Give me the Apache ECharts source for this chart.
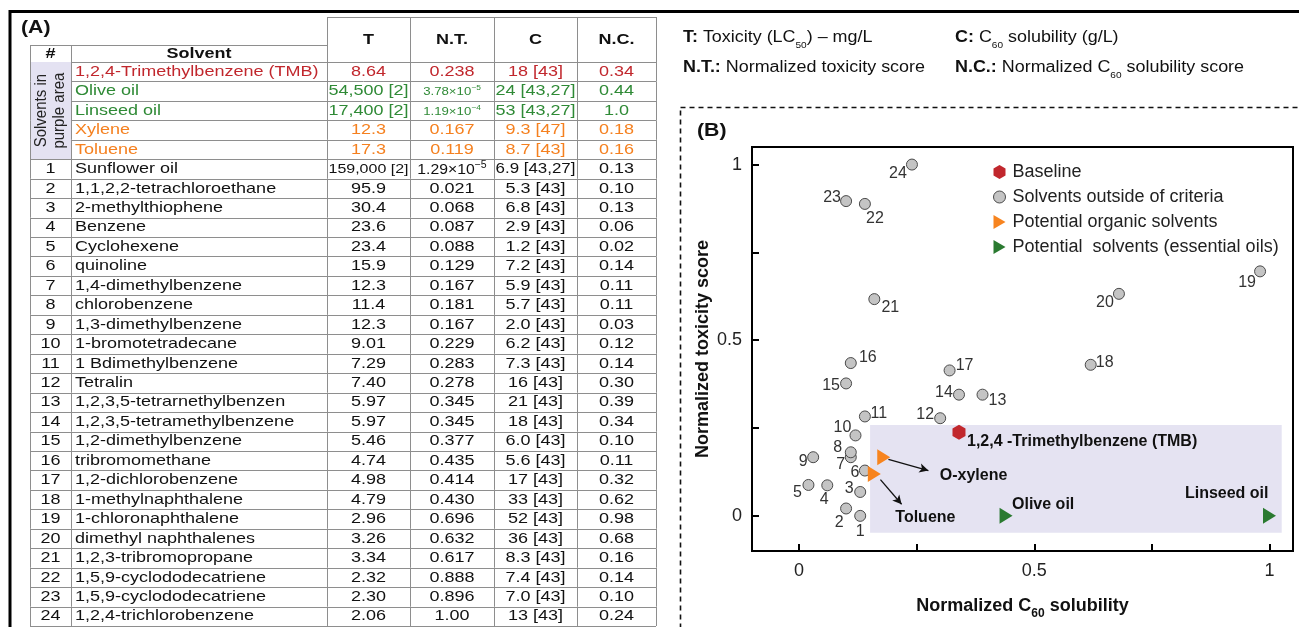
<!DOCTYPE html>
<html><head><meta charset="utf-8">
<script src="https://cdn.jsdelivr.net/npm/echarts@6/dist/echarts.min.js"></script>
<style>html,body{margin:0;padding:0;background:#fff}#c{width:1299px;height:627px}</style>
</head><body><div id="c"></div>
<script>
// ================= DATA =================
const headerCols = ['T', 'N.T.', 'C', 'N.C.'];

const purpleNames = ['1,2,4-Trimethylbenzene (TMB)', 'Olive oil', 'Linseed oil', 'Xylene', 'Toluene'];
const purpleT = ['8.64', '54,500 [2]', '17,400 [2]', '12.3', '17.3'];
const purpleNT = [0.238, 3.78e-5, 1.19e-4, 0.167, 0.119];
const purpleC = ['18 [43]', '24 [43,27]', '53 [43,27]', '9.3 [47]', '8.7 [43]'];
const purpleNC = [0.34, 0.44, 1.0, 0.18, 0.16];
const purpleGroup = ['baseline', 'oil', 'oil', 'organic', 'organic'];
const purplePlotLabel = ['1,2,4 -Trimethylbenzene (TMB)', 'Olive oil', 'Linseed oil', 'O-xylene', 'Toluene'];

const solventNames = ['Sunflower oil', '1,1,2,2-tetrachloroethane', '2-methylthiophene', 'Benzene', 'Cyclohexene',
  'quinoline', '1,4-dimethylbenzene', 'chlorobenzene', '1,3-dimethylbenzene', '1-bromotetradecane',
  '1 Bdimethylbenzene', 'Tetralin', '1,2,3,5-tetrarnethylbenzen', '1,2,3,5-tetramethylbenzene', '1,2-dimethylbenzene',
  'tribromomethane', '1,2-dichlorobenzene', '1-methylnaphthalene', '1-chloronaphthalene', 'dimethyl naphthalenes',
  '1,2,3-tribromopropane', '1,5,9-cyclododecatriene', '1,5,9-cyclododecatriene', '1,2,4-trichlorobenzene'];
const solventT = ['159,000 [2]', '95.9', '30.4', '23.6', '23.4', '15.9', '12.3', '11.4', '12.3', '9.01', '7.29', '7.40',
  '5.97', '5.97', '5.46', '4.74', '4.98', '4.79', '2.96', '3.26', '3.34', '2.32', '2.30', '2.06'];
const solventNT = [1.29e-5, 0.021, 0.068, 0.087, 0.088, 0.129, 0.167, 0.181, 0.167, 0.229, 0.283, 0.278,
  0.345, 0.345, 0.377, 0.435, 0.414, 0.430, 0.696, 0.632, 0.617, 0.888, 0.896, 1.00];
const solventC = ['6.9 [43,27]', '5.3 [43]', '6.8 [43]', '2.9 [43]', '1.2 [43]', '7.2 [43]', '5.9 [43]', '5.7 [43]',
  '2.0 [43]', '6.2 [43]', '7.3 [43]', '16 [43]', '21 [43]', '18 [43]', '6.0 [43]', '5.6 [43]', '17 [43]', '33 [43]',
  '52 [43]', '36 [43]', '8.3 [43]', '7.4 [43]', '7.0 [43]', '13 [43]'];
const solventNC = [0.13, 0.10, 0.13, 0.06, 0.02, 0.14, 0.11, 0.11, 0.03, 0.12, 0.14, 0.30,
  0.39, 0.34, 0.10, 0.11, 0.32, 0.62, 0.98, 0.68, 0.16, 0.14, 0.10, 0.24];

const xTickValues = [0, 0.25, 0.5, 0.75, 1];
const xTickLabels = [0, 0.5, 1];
const yTickValues = [0, 0.25, 0.5, 0.75, 1];
const yTickLabels = [0, 0.5, 1];

// ================= LAYOUT / STYLE =================
const FONT = '"Liberation Sans", Arial, sans-serif';
const SX = 1.2;                       // horizontal stretch of the reference text
const LINE = '#8e8e8e';
const groupColor = { baseline: '#c1272d', oil: '#2f8a36', organic: '#f5801f' };
const plotColor = { baseline: '#c1272d', oil: '#2a7a30', organic: '#f7841f' };
const TBL = { left: 30, top: 62, width: 626, height: 564 };
const COL_EDGES = [0, 41, 297, 380, 464, 547, 626];
const grayLabelOffsets = [[0,16],[-7,14],[-11,-3],[-3,14],[-11,8],[-10,2],[-10,7],[-13,-5],[-10,4],[-13,-8],
  [14,-3],[-15,-4],[15,6],[-15,-2],[-15,2],[17,-5],[15,-5],[14,-2],[-13,11],[-14,9],[16,8],[10,15],[-14,-4],[-14,9]];
const specialLabel = [
  { align: 'left', offset: [8, 9] },
  { align: 'left', offset: [6, -11] },
  { align: 'right', offset: [-1, -22] },
  { align: 'left', offset: [56, 18] },
  { align: 'left', offset: [21, 44] }
];
const arrowDelta = { 3: [[0.01, -0.006], [0.095, -0.038]], 4: [[0.013, -0.016], [0.058, -0.086]] };

// ================= helpers =================
const mctx = document.createElement('canvas').getContext('2d');
function textW(t, size, weight) { mctx.font = (weight || 'normal') + ' ' + size + 'px ' + FONT; return mctx.measureText(t).width; }
function fmtNT(v) {
  if (v < 0.001) {
    const e = Math.floor(Math.log10(v));
    return { sci: true, m: (v / Math.pow(10, e)).toFixed(2) + '×10', e: String(e) };
  }
  return { sci: false, s: v === 1 ? '1.00' : v.toFixed(3) };
}
function fmtNC(v) { return v === 1 ? '1.0' : v.toFixed(2); }

const tableRows = [];
purpleNames.forEach((n, i) => tableRows.push({ purple: true, num: '', name: n, T: purpleT[i], NT: purpleNT[i], C: purpleC[i], NC: purpleNC[i], color: groupColor[purpleGroup[i]] }));
solventNames.forEach((n, i) => tableRows.push({ purple: false, num: String(i + 1), name: n, T: solventT[i], NT: solventNT[i], C: solventC[i], NC: solventNC[i], color: '#111' }));

function cellText(txt, cx, cy, color, cellW, align) {
  let fs = 15;
  const w = textW(txt, fs) * SX;
  if (w > cellW - 3) fs = fs * (cellW - 3) / w;
  return { type: 'text', x: cx, y: cy, scaleX: SX, style: { text: txt, fill: color, fontSize: fs, fontFamily: FONT, align: align || 'center', verticalAlign: 'middle' } };
}

function renderRow(params, api) {
  const i = params.dataIndex;
  const r = tableRows[i];
  const band = api.size([0, 1])[1];
  const yc = api.coord([0, i])[1];
  const top = yc - band / 2, bot = yc + band / 2;
  const X = e => api.coord([e, i])[0];
  const px = v => Math.round(v) + 0.5;
  const ch = [];
  const ls = { stroke: LINE, lineWidth: 1 };
  if (i === 0) {
    ch.push({ type: 'rect', shape: { x: X(COL_EDGES[0]), y: top, width: X(COL_EDGES[1]) - X(COL_EDGES[0]), height: band * 5 }, style: { fill: '#e4e2f2' } });
    ch.push({ type: 'text', x: (X(COL_EDGES[0]) + X(COL_EDGES[1])) / 2, y: top + band * 2.5, rotation: Math.PI / 2, scaleY: 1.1,
      style: { text: 'Solvents in\npurple area', fill: '#222', fontSize: 15, lineHeight: 17, fontFamily: FONT, align: 'center', verticalAlign: 'middle' } });
  }
  const hStart = (r.purple && i < 4) ? X(COL_EDGES[1]) : X(COL_EDGES[0]);
  ch.push({ type: 'line', shape: { x1: hStart, y1: px(bot), x2: X(COL_EDGES[6]), y2: px(bot) }, style: ls });
  COL_EDGES.forEach(e => ch.push({ type: 'line', shape: { x1: px(X(e)), y1: top, x2: px(X(e)), y2: bot }, style: ls }));
  if (r.num) ch.push(cellText(r.num, (X(COL_EDGES[0]) + X(COL_EDGES[1])) / 2, yc, '#111', 41));
  ch.push(cellText(r.name, X(COL_EDGES[1]) + 4, yc, r.color, 300, 'left'));
  const vals = [r.T, null, r.C, fmtNC(r.NC)];
  [2, 3, 4, 5].forEach((c, k) => {
    const cx = (X(COL_EDGES[c]) + X(COL_EDGES[c + 1])) / 2;
    const cw = X(COL_EDGES[c + 1]) - X(COL_EDGES[c]);
    if (k === 1) {
      const f = fmtNT(r.NT);
      if (f.sci) {
        const fs = r.purple ? 11 : 15, ss = r.purple ? 7 : 10;
        ch.push({ type: 'text', x: cx, y: yc, scaleX: r.purple ? SX : 1.05, style: {
          text: '{m|' + f.m + '}{s|' + f.e.replace('-', '−') + '}', fill: r.color, fontFamily: FONT, fontSize: fs,
          align: 'center', verticalAlign: 'middle',
          rich: { m: { fontSize: fs, fontFamily: FONT, fill: r.color, verticalAlign: 'bottom', lineHeight: fs + 2 },
                  s: { fontSize: ss, fontFamily: FONT, fill: r.color, verticalAlign: 'top', lineHeight: fs + 2 } } } });
      } else ch.push(cellText(f.s, cx, yc, r.color, cw));
    } else ch.push(cellText(vals[k], cx, yc, r.color, cw));
  });
  return { type: 'group', children: ch };
}

// ---------- scatter data ----------
const grayData = solventNC.map((x, i) => ({ value: [x, solventNT[i]], label: { offset: grayLabelOffsets[i] } }));
function specialData(group) {
  const out = [];
  purpleGroup.forEach((g, i) => {
    if (g === group) out.push({ value: [purpleNC[i], purpleNT[i]], label: { show: true, formatter: purplePlotLabel[i], align: specialLabel[i].align, offset: specialLabel[i].offset } });
  });
  return out;
}
const arrows = [];
purpleGroup.forEach((g, i) => {
  if (arrowDelta[i]) {
    const d = arrowDelta[i];
    arrows.push([{ coord: [purpleNC[i] + d[0][0], purpleNT[i] + d[0][1]] }, { coord: [purpleNC[i] + d[1][0], purpleNT[i] + d[1][1]] }]);
  }
});

const HEX = 'path://M6,0 L12,3.5 L12,10.5 L6,14 L0,10.5 L0,3.5 Z';
const TRI = 'path://M0,0 L12,7 L0,14 Z';
const specLabelStyle = { position: 'inside', fontFamily: FONT, fontWeight: 'bold', fontSize: 16, color: '#111', verticalAlign: 'middle' };

// ---------- header graphics ----------
const G = [];
const gl = (x1, y1, x2, y2, st) => G.push({ type: 'line', silent: true, shape: { x1, y1, x2, y2 }, style: Object.assign({ stroke: LINE, lineWidth: 1 }, st || {}) });
const abs = e => TBL.left + e;
// outer frame
G.push({ type: 'polyline', silent: true, shape: { points: [[10, 640], [10, 11.5], [1310, 11.5]] }, style: { stroke: '#000', lineWidth: 3, fill: null } });
// header boxes
gl(abs(COL_EDGES[2]), 17.5, abs(COL_EDGES[6]), 17.5);
gl(abs(COL_EDGES[0]), 45.5, abs(COL_EDGES[2]), 45.5);
gl(abs(COL_EDGES[0]), 62.5, abs(COL_EDGES[6]), 62.5);
[2, 3, 4, 5, 6].forEach(c => gl(abs(COL_EDGES[c]) + 0.5, 17, abs(COL_EDGES[c]) + 0.5, 62));
[0, 1].forEach(c => gl(abs(COL_EDGES[c]) + 0.5, 45, abs(COL_EDGES[c]) + 0.5, 62));
headerCols.forEach((h, k) => G.push({ type: 'text', silent: true, x: (abs(COL_EDGES[k + 2]) + abs(COL_EDGES[k + 3])) / 2, y: 40, scaleX: SX,
  style: { text: h, fontFamily: FONT, fontWeight: 'bold', fontSize: 15, fill: '#111', align: 'center', verticalAlign: 'middle' } }));
G.push({ type: 'text', silent: true, x: (abs(COL_EDGES[0]) + abs(COL_EDGES[1])) / 2, y: 54, scaleX: SX, style: { text: '#', fontFamily: FONT, fontWeight: 'bold', fontSize: 15, fill: '#111', align: 'center', verticalAlign: 'middle' } });
G.push({ type: 'text', silent: true, x: (abs(COL_EDGES[1]) + abs(COL_EDGES[2])) / 2, y: 54, scaleX: SX, style: { text: 'Solvent', fontFamily: FONT, fontWeight: 'bold', fontSize: 15, fill: '#111', align: 'center', verticalAlign: 'middle' } });
G.push({ type: 'text', silent: true, x: 21, y: 28, scaleX: 1.12, style: { text: '(A)', fontFamily: FONT, fontWeight: 'bold', fontSize: 19, fill: '#111', align: 'left', verticalAlign: 'middle' } });
G.push({ type: 'text', silent: true, x: 697, y: 131, scaleX: 1.12, style: { text: '(B)', fontFamily: FONT, fontWeight: 'bold', fontSize: 19, fill: '#111', align: 'left', verticalAlign: 'middle' } });
// definitions block
const defRich = { b: { fontWeight: 'bold', fontSize: 16, fontFamily: FONT, fill: '#111', lineHeight: 20 },
  r: { fontSize: 16, fontFamily: FONT, fill: '#111', lineHeight: 20 },
  s: { fontSize: 9, fontFamily: FONT, fill: '#111', verticalAlign: 'bottom', lineHeight: 25 } };
[[683, 38, '{b|T:}{r| Toxicity (LC}{s|50}{r|) – mg/L}'], [955, 38, '{b|C:}{r| C}{s|60}{r| solubility (g/L)}'],
 [683, 68, '{b|N.T.:}{r| Normalized toxicity score}'], [955, 68, '{b|N.C.:}{r| Normalized C}{s|60}{r| solubility score}']]
  .forEach(d => G.push({ type: 'text', silent: true, x: d[0], y: d[1], scaleX: 1.12, style: { text: d[2], rich: defRich, fontFamily: FONT, fontSize: 16, align: 'left', verticalAlign: 'middle' } }));
// dashed panel
G.push({ type: 'rect', silent: true, shape: { x: 680.5, y: 107.5, width: 700, height: 600 }, style: { fill: null, stroke: '#111', lineWidth: 1.6, lineDash: [5, 4] } });

// ================= CHART =================
const chart = echarts.init(document.getElementById('c'));
chart.setOption({
  animation: false,
  backgroundColor: '#fff',
  textStyle: { fontFamily: FONT },
  graphic: G,
  grid: [
    { left: TBL.left, top: TBL.top, width: TBL.width, height: TBL.height },
    { left: 752, top: 147, width: 541, height: 404, show: true, borderColor: '#000', borderWidth: 2 }
  ],
  xAxis: [
    { gridIndex: 0, type: 'value', min: 0, max: TBL.width, show: false },
    { gridIndex: 1, type: 'value', min: -0.1, max: 1.05, splitLine: { show: false },
      axisLine: { show: true, onZero: false, lineStyle: { color: '#000', width: 2 } },
      axisTick: { show: true, inside: true, length: 7, customValues: xTickValues, lineStyle: { color: '#000', width: 2 } },
      axisLabel: { customValues: xTickLabels, fontSize: 18, color: '#222', fontFamily: FONT, margin: 11, formatter: v => String(v) },
      name: 'Normalized C{s|60} solubility', nameLocation: 'middle', nameGap: 42,
      nameTextStyle: { fontSize: 18, fontWeight: 'bold', color: '#111', fontFamily: FONT, lineHeight: 22,
        rich: { s: { fontSize: 12, fontWeight: 'bold', fontFamily: FONT, color: '#111', verticalAlign: 'bottom', lineHeight: 27 } } } }
  ],
  yAxis: [
    { gridIndex: 0, type: 'category', data: tableRows.map((r, i) => 'r' + i), inverse: true, show: false },
    { gridIndex: 1, type: 'value', min: -0.1, max: 1.05, splitLine: { show: false },
      axisLine: { show: true, onZero: false, lineStyle: { color: '#000', width: 2 } },
      axisTick: { show: true, inside: true, length: 7, customValues: yTickValues, lineStyle: { color: '#000', width: 2 } },
      axisLabel: { customValues: yTickLabels, fontSize: 18, color: '#222', fontFamily: FONT, margin: 10, formatter: v => String(v) },
      name: 'Normalized toxicity score', nameLocation: 'middle', nameRotate: 90, nameGap: 40,
      nameTextStyle: { fontSize: 18, fontWeight: 'bold', color: '#111', fontFamily: FONT } }
  ],
  legend: {
    orient: 'vertical', left: 988, top: 158, itemWidth: 12, itemHeight: 14, itemGap: 7,
    textStyle: { fontSize: 18, color: '#222', fontFamily: FONT, padding: [0, 0, 0, 2] },
    data: ['Baseline', { name: 'Solvents outside of criteria', itemStyle: { borderWidth: 1 } }, 'Potential organic solvents', 'Potential  solvents (essential oils)']
  },
  series: [
    { type: 'custom', name: 'table', xAxisIndex: 0, yAxisIndex: 0, silent: true, clip: false,
      data: tableRows.map((r, i) => [0, i]), renderItem: renderRow },
    { type: 'scatter', name: 'area', xAxisIndex: 1, yAxisIndex: 1, data: [], silent: true, z: 1,
      markArea: { silent: true, itemStyle: { color: '#e5e3f2' }, data: [[{ coord: [0.151, 0.259] }, { coord: [1.026, -0.048] }]] } },
    { type: 'scatter', name: 'Solvents outside of criteria', xAxisIndex: 1, yAxisIndex: 1, z: 3,
      symbol: 'circle', symbolSize: 11, itemStyle: { color: '#c4c4c4', borderColor: '#4a4a4a', borderWidth: 1, opacity: 1 },
      label: { show: true, position: 'inside', formatter: p => String(p.dataIndex + 1), fontSize: 16, color: '#333', fontFamily: FONT },
      data: grayData },
    { type: 'scatter', name: 'Baseline', xAxisIndex: 1, yAxisIndex: 1, z: 4, symbol: HEX, symbolSize: [13, 15],
      itemStyle: { color: plotColor.baseline, opacity: 1 }, label: specLabelStyle, data: specialData('baseline') },
    { type: 'scatter', name: 'Potential organic solvents', xAxisIndex: 1, yAxisIndex: 1, z: 4, symbol: TRI, symbolSize: [13, 16],
      itemStyle: { color: plotColor.organic, opacity: 1 }, label: specLabelStyle, data: specialData('organic'),
      markLine: { silent: true, symbol: ['none', 'arrow'], symbolSize: [7, 9], label: { show: false },
        lineStyle: { color: '#111', width: 1.3, type: 'solid' }, data: arrows } },
    { type: 'scatter', name: 'Potential  solvents (essential oils)', xAxisIndex: 1, yAxisIndex: 1, z: 4, symbol: TRI, symbolSize: [13, 16],
      itemStyle: { color: plotColor.oil, opacity: 1 }, label: specLabelStyle, data: specialData('oil') }
  ]
});
</script></body></html>
